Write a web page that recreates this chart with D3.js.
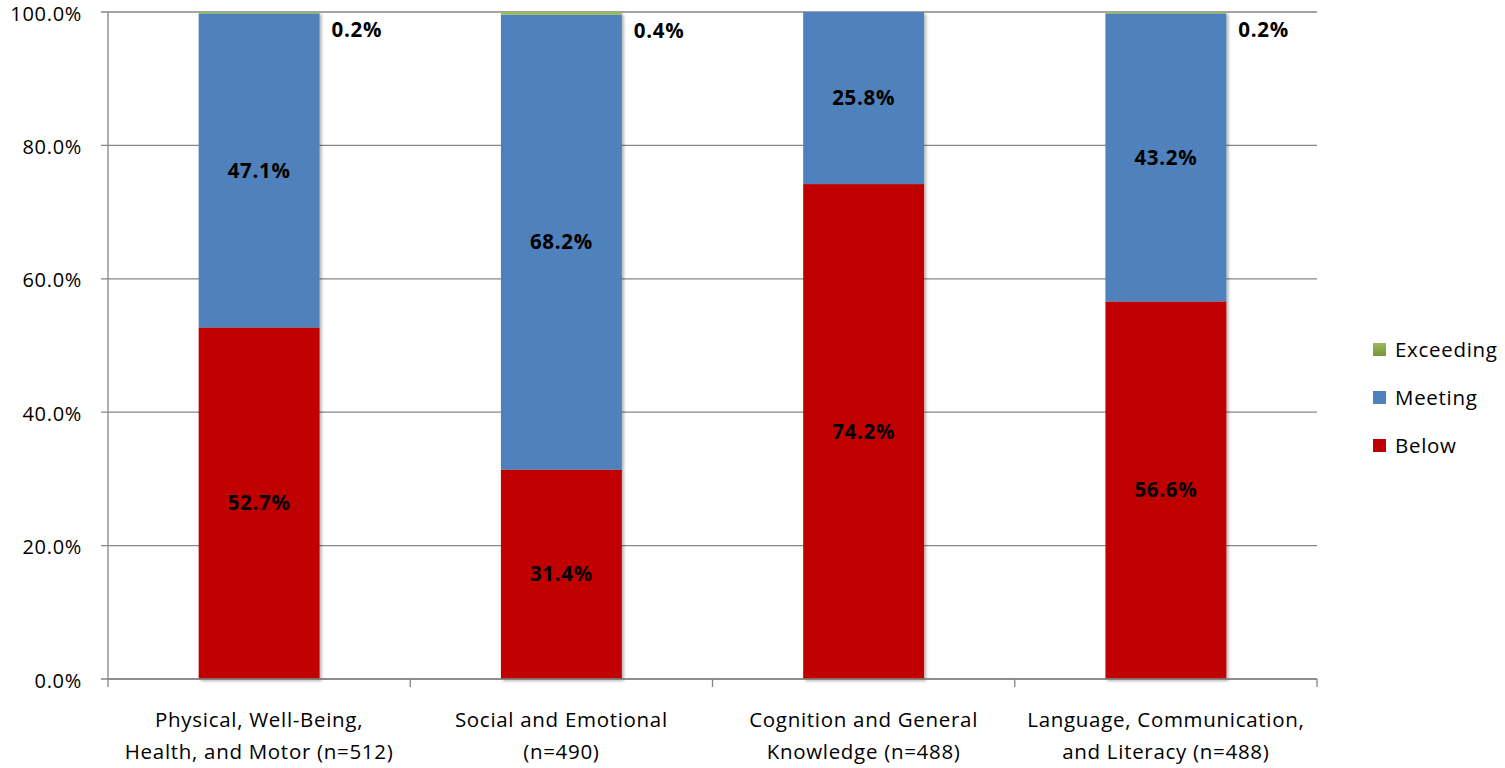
<!DOCTYPE html>
<html><head><meta charset="utf-8">
<script src="https://cdn.jsdelivr.net/npm/d3@7"></script>
<style>body{margin:0;background:#fff}svg{display:block}text{font-family:"Open Sans",sans-serif;letter-spacing:0.7px}</style>
</head><body><svg id="c" width="1505" height="768"></svg>
<script>
const categories = [["Physical, Well-Being,","Health, and Motor (n=512)"],["Social and Emotional","(n=490)"],["Cognition and General","Knowledge (n=488)"],["Language, Communication,","and Literacy (n=488)"]];
const seriesNames = ["Below","Meeting","Exceeding"];
const below = [52.7, 31.4, 74.2, 56.6];
const meeting = [47.1, 68.2, 25.8, 43.2];
const exceeding = [0.2, 0.4, 0.0, 0.2];
const yTicks = [0,20,40,60,80,100];
const colors = {Below:"#C00000", Meeting:"#4F81BD", Exceeding:"#9BBB59"};

const svg = d3.select("#c");
const m = {l:108, r:1317, t:12, b:679};
const x = d3.scaleBand().domain(d3.range(categories.length)).range([m.l,m.r]).paddingInner(0.6).paddingOuter(0.3);
const xb = d3.scaleBand().domain(d3.range(categories.length)).range([m.l,m.r]);
const y = d3.scaleLinear().domain([0,100]).range([m.b,m.t]);

const defs = svg.append("defs");
const f = defs.append("filter").attr("id","sh").attr("x","-10%").attr("y","-10%").attr("width","130%").attr("height","130%");
f.append("feDropShadow").attr("dx",2).attr("dy",2).attr("stdDeviation",1.5).attr("flood-color","#000").attr("flood-opacity",0.3);
const lg = defs.append("linearGradient").attr("id","gx").attr("x1",0).attr("y1",0).attr("x2",0).attr("y2",1);
lg.append("stop").attr("offset","0%").attr("stop-color","#9BBB59");
lg.append("stop").attr("offset","100%").attr("stop-color","#76923C");

svg.append("g").selectAll("line").data(yTicks).join("line")
  .attr("x1",m.l-7).attr("x2",m.r).attr("y1",d=>y(d)).attr("y2",d=>y(d))
  .attr("stroke","#868686").attr("stroke-width",1.3);
svg.append("g").selectAll("text").data(yTicks).join("text")
  .attr("x",m.l-26).attr("y",d=>y(d)+1.5).attr("dy","0.35em").attr("text-anchor","end")
  .attr("font-size",20).attr("fill","#000").text(d=>d3.format(".1f")(d)+"%");

const stackData = categories.map((c,i)=>({i, Below:below[i], Meeting:meeting[i], Exceeding:exceeding[i]}));
const stack = d3.stack().keys(seriesNames)(stackData);

const bars = svg.append("g").attr("filter","url(#sh)");
stack.forEach(layer=>{
  bars.append("g").selectAll("rect").data(layer).join("rect")
    .attr("x",(d,i)=>x(i)).attr("width",x.bandwidth())
    .attr("y",d=>y(d[1])).attr("height",d=>Math.max(0,y(d[0])-y(d[1])))
    .attr("fill",colors[layer.key]);
});

svg.append("line").attr("x1",m.l).attr("x2",m.l).attr("y1",m.t).attr("y2",m.b).attr("stroke","#868686").attr("stroke-width",1.3);
svg.append("line").attr("x1",m.l).attr("x2",m.r).attr("y1",m.b).attr("y2",m.b).attr("stroke","#868686").attr("stroke-width",1.3);
const xt = d3.range(categories.length+1).map(i=>m.l+i*xb.step());
svg.append("g").selectAll("line").data(xt).join("line")
  .attr("x1",d=>d).attr("x2",d=>d).attr("y1",m.b).attr("y2",m.b+8).attr("stroke","#868686").attr("stroke-width",1.3);

const lab = svg.append("g").attr("font-size",20.5).attr("font-weight","bold").attr("fill","#000");
stack.forEach(layer=>{
  layer.forEach((d,i)=>{
    const v = d[1]-d[0];
    if(v<=0) return;
    if(layer.key==="Exceeding"){
      lab.append("text").attr("x",x(i)+x.bandwidth()+12).attr("y",y((d[0]+d[1])/2)+17).attr("dy","0.35em").text(v.toFixed(1)+"%");
    } else {
      lab.append("text").attr("x",x(i)+x.bandwidth()/2).attr("y",y((d[0]+d[1])/2)).attr("dy","0.35em").attr("text-anchor","middle").text(v.toFixed(1)+"%");
    }
  });
});

categories.forEach((c,i)=>{
  const t = svg.append("text").attr("text-anchor","middle").attr("font-size",20.5).attr("fill","#000");
  c.forEach((line,k)=>t.append("tspan").attr("x",xb(i)+xb.bandwidth()/2).attr("y",727+k*32).text(line));
});

const leg = svg.append("g");
["Exceeding","Meeting","Below"].forEach((s,k)=>{
  const cy = 350+k*48;
  leg.append("rect").attr("x",1373).attr("y",cy-7).attr("width",13).attr("height",13)
    .attr("fill", s==="Exceeding"?"url(#gx)":colors[s]);
  leg.append("text").attr("x",1395).attr("y",cy).attr("dy","0.35em").attr("font-size",20.5).text(s);
});
</script></body></html>
